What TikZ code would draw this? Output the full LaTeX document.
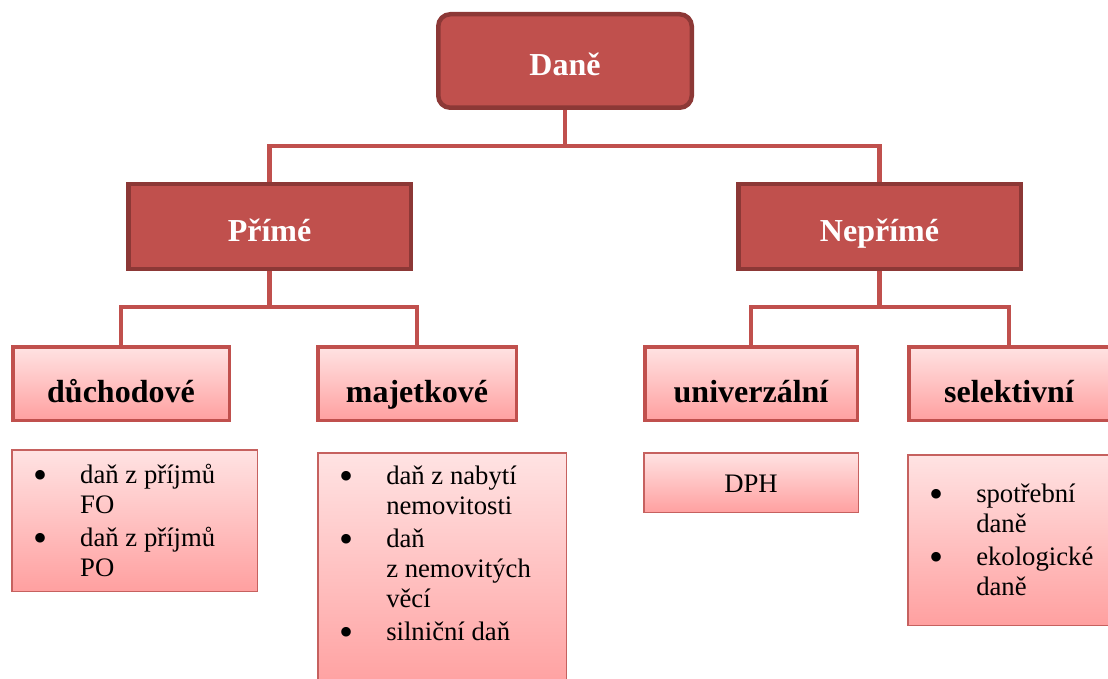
\documentclass[tikz,border=0pt]{standalone}
\usepackage{graphicx}
\usepackage{fontspec}
\setmainfont{Liberation Serif}
\usetikzlibrary{backgrounds}

\definecolor{taxred}{HTML}{C0504D}
\definecolor{taxdark}{HTML}{8C3836}
\definecolor{pinktop}{HTML}{FFE3E3}
\definecolor{pinkbottom}{HTML}{FFA0A0}

% odrazka a odsazeni pokracovani
\newcommand{\bul}{\makebox[47pt][l]{\raisebox{-5pt}{\scalebox{1.5}{\textbullet}}}}
\newcommand{\ind}{\hspace*{47pt}}

\tikzset{
  tax link/.style={
    draw=taxred,
    line width=4.5pt
  },
  main box/.style={
    draw=taxdark,
    fill=taxred,
    line width=4.5pt,
    text=white,
    inner sep=0pt,
    text height=29pt,
    text depth=0pt,
    font=\fontsize{32pt}{36pt}\selectfont\bfseries
  },
  kind box/.style={
    draw=taxred,
    line width=3.5pt,
    top color=pinktop,
    bottom color=pinkbottom,
    inner sep=0pt,
    minimum height=73.5pt,
    text height=38pt,
    text depth=0pt,
    font=\fontsize{32pt}{36pt}\selectfont\bfseries
  },
  leaf box/.style={
    draw=taxred!90,
    line width=1.5pt,
    top color=pinktop,
    bottom color=pinkbottom,
    inner xsep=21.5pt,
    inner ysep=0pt,
    align=flush left,
    font=\fontsize{26.7pt}{30pt}\selectfont
  }
}

\begin{document}
\begin{tikzpicture}[x=1pt,y=-1pt]

    \useasboundingbox (0,0) rectangle (1108,679);
    \clip (0,0) rectangle (1108,679);

    % ---------- hlavni uzly ----------
    \node[main box, rounded corners=12pt,
          minimum width=253.5pt, minimum height=93.5pt]
      (dane) at (565,61) {Daně};

    \node[main box, minimum width=282.5pt, minimum height=84.5pt]
      (prime) at (269.5,226.5) {Přímé};

    \node[main box, minimum width=282.5pt, minimum height=84.5pt]
      (neprime) at (879.5,226.5) {Nepřímé};

    % ---------- druhy dani ----------
    \node[kind box, minimum width=216.5pt] (duch)   at (121,383.5)  {důchodové};
    \node[kind box, minimum width=198.5pt] (majet)  at (417,383.5)  {majetkové};
    \node[kind box, minimum width=212.5pt] (univ)   at (751,383.5)  {univerzální};
    \node[kind box, minimum width=200.5pt] (selekt) at (1009,383.5) {selektivní};

    % ---------- vycty dani ----------
    \node[leaf box, minimum width=245.5pt, minimum height=141.5pt,
          text width=202.5pt]
      (duchlist) at (134.5,520.5)
      {\bul daň z příjmů\\ \ind FO\\[3pt]
       \bul daň z příjmů\\ \ind PO};

    \node[leaf box, minimum width=248.5pt, minimum height=236.5pt,
          text width=205.5pt]
      (majlist) at (442,571)
      {\bul daň z nabytí\\ \ind nemovitosti\\[3pt]
       \bul daň\\ \ind z nemovitých\\ \ind věcí\\[3pt]
       \bul silniční daň\\[6pt] \mbox{}};

    \node[leaf box, minimum width=214.5pt, minimum height=59.5pt,
          text height=19pt, text depth=0pt]
      (dph) at (751,482.5) {DPH};

    \node[leaf box, minimum width=208.5pt, minimum height=170.5pt,
          text width=165.5pt]
      (selektlist) at (1012,540)
      {\bul spotřební\\ \ind daně\\[3pt]
       \bul ekologické\\ \ind daně};

    % ---------- spojnice ----------
    \coordinate (topbar)     at (565,146);
    \coordinate (primebar)   at (269.5,307);
    \coordinate (neprimebar) at (879.5,307);

    \begin{scope}[on background layer]
      \draw[tax link] (dane.south) -- (topbar);
      \draw[tax link] (prime.north) |- (topbar) -| (neprime.north);

      \draw[tax link] (prime.south) -- (primebar);
      \draw[tax link] (duch.north) |- (primebar) -| (majet.north);

      \draw[tax link] (neprime.south) -- (neprimebar);
      \draw[tax link] (univ.north) |- (neprimebar) -| (selekt.north);
    \end{scope}

\end{tikzpicture}
\end{document}
